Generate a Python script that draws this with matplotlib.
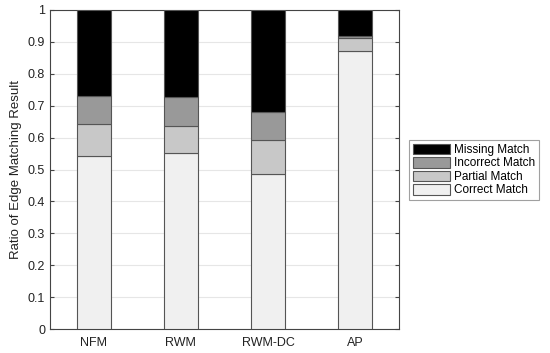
import matplotlib
matplotlib.use("Agg")
import matplotlib.pyplot as plt
import numpy as np

plt.rcParams['font.family'] = ['Liberation Sans', 'DejaVu Sans']

categories = ["NFM", "RWM", "RWM-DC", "AP"]
correct = [0.542, 0.551, 0.485, 0.871]
partial = [0.101, 0.085, 0.109, 0.041]
incorrect = [0.088, 0.091, 0.085, 0.007]
missing = [1 - c - p - i for c, p, i in zip(correct, partial, incorrect)]
series_names = ["Missing Match", "Incorrect Match", "Partial Match", "Correct Match"]
colors = ["#000000", "#999999", "#c8c8c8", "#f0f0f0"]

fig = plt.figure(figsize=(5.5, 3.53), dpi=100)
ax = fig.add_axes([50/550, 24/353, 349/550, 319/353])

x = np.arange(1, len(categories) + 1)
w = 0.39
edge = "#555555"
b1 = ax.bar(x, correct, w, color=colors[3], edgecolor=edge, linewidth=0.8, zorder=3)
b2 = ax.bar(x, partial, w, bottom=correct, color=colors[2], edgecolor=edge, linewidth=0.8, zorder=3)
bot3 = [c + p for c, p in zip(correct, partial)]
b3 = ax.bar(x, incorrect, w, bottom=bot3, color=colors[1], edgecolor=edge, linewidth=0.8, zorder=3)
bot4 = [b + i for b, i in zip(bot3, incorrect)]
b4 = ax.bar(x, missing, w, bottom=bot4, color=colors[0], edgecolor=edge, linewidth=0.8, zorder=3)

ax.set_xlim(0.5, 4.5)
ax.set_ylim(0, 1)
ax.set_xticks(x)
ax.set_xticklabels(categories, fontsize=9)
yt = np.round(np.arange(0, 1.01, 0.1), 1)
ax.set_yticks(yt)
ax.set_yticklabels(["0" if v == 0 else ("1" if v == 1 else f"{v:g}") for v in yt], fontsize=9)
ax.yaxis.grid(True, color="#e6e6e6", linewidth=0.8, zorder=0)
ax.set_axisbelow(True)
ax.tick_params(axis='y', direction='in', right=True, length=3, color="#444444", labelcolor="#222222")
ax.tick_params(axis='x', direction='in', length=0, labelcolor="#222222", pad=6)
for s in ax.spines.values():
    s.set_color("#444444")
    s.set_linewidth(0.8)
ax.set_ylabel("Ratio of Edge Matching Result", fontsize=9.5, color="#222222")

leg = fig.legend([b4, b3, b2, b1], series_names, loc="upper left",
                 bbox_to_anchor=(409/550, 1 - 140/353), fontsize=8.5,
                 frameon=True, fancybox=False, edgecolor="#888888",
                 handlelength=3.2, handleheight=1.0, borderpad=0.3,
                 labelspacing=0.1, handletextpad=0.3, borderaxespad=0)
leg.get_frame().set_linewidth(0.8)

fig.savefig("out.png", dpi=100)
